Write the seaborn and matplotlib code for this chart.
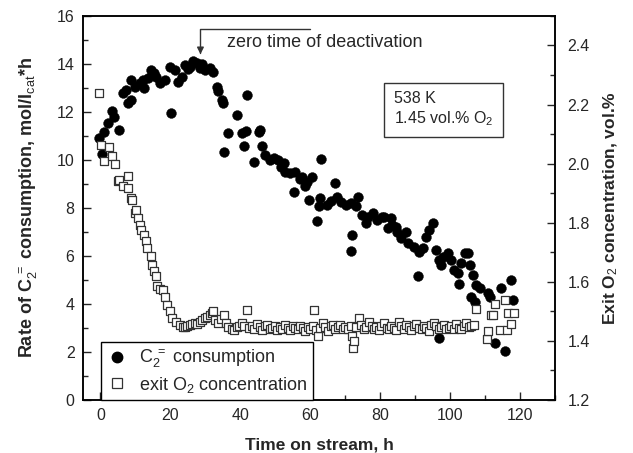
import matplotlib
matplotlib.use("Agg")
import matplotlib.pyplot as plt
import seaborn as sns
import pandas as pd
from matplotlib.ticker import MultipleLocator
from matplotlib.lines import Line2D

# ---- data ----
time_c = [-0.3, 0.4, 1.1, 2.3, 3.4, 4.0, 5.3, 6.4, 7.4, 7.9, 8.8, 8.8, 9.8, 11.2, 12.2, 12.6,
          13.5, 14.6, 15.3, 16.0, 17.0, 18.4, 19.8, 20.3, 21.3, 22.2, 23.2, 24.1, 25.0, 25.6,
          26.5, 27.5, 28.4, 29.0, 29.9, 31.3, 32.3, 33.2, 33.7, 34.7, 35.0, 35.4, 36.4, 39.0,
          40.4, 41.1, 41.7, 42.0, 44.0, 45.2, 45.7, 46.2, 47.1, 48.6, 49.5, 50.9, 51.5, 52.4,
          52.9, 54.3, 55.3, 55.7, 57.0, 57.6, 58.4, 59.1, 59.6, 60.5, 61.8, 62.5, 62.9, 63.1,
          64.8, 66.0, 67.2, 67.7, 68.7, 70.1, 71.6, 71.7, 72.0, 73.0, 73.5, 74.9, 75.9, 76.4,
          77.8, 79.2, 80.6, 81.1, 82.1, 83.0, 83.5, 84.5, 84.9, 85.9, 87.4, 87.8, 89.7, 90.7,
          91.2, 92.1, 93.1, 94.0, 95.0, 96.0, 96.9, 96.9, 97.4, 97.9, 99.3, 100.3, 101.2, 102.2,
          102.4, 103.2, 104.1, 105.1, 105.6, 106.0, 106.5, 107.0, 107.5, 108.4, 110.8, 111.3,
          112.9, 114.5, 115.6, 117.5, 118.0]
rate_c = [10.9, 10.24, 11.18, 11.55, 12.04, 11.8, 11.25, 12.78, 12.9, 12.36, 12.5, 13.33, 13.05,
          13.2, 13.33, 13.0, 13.4, 13.75, 13.6, 13.47, 13.2, 13.33, 13.89, 11.95, 13.75, 13.26,
          13.47, 13.96, 13.8, 13.89, 14.1, 14.03, 13.82, 14.0, 13.75, 13.82, 13.68, 13.05, 12.85,
          12.5, 12.36, 10.35, 11.14, 11.875, 11.1, 10.6, 11.2, 12.7, 9.93, 11.18, 11.25, 10.56,
          10.2, 10.0, 10.07, 10.0, 9.7, 9.86, 9.51, 9.44, 8.68, 9.51, 9.2, 9.3, 8.9, 9.1, 8.33,
          9.3, 7.47, 8.06, 8.4, 10.03, 8.125, 8.3, 9.03, 8.47, 8.26, 8.125, 8.2, 6.22, 6.875,
          8.06, 8.47, 7.7, 7.36, 7.64, 7.78, 7.5, 7.64, 7.64, 7.15, 7.57, 7.3, 7.22, 7.0, 6.74,
          7.01, 6.53, 6.39, 5.17, 6.18, 6.32, 6.8, 7.08, 7.36, 6.25, 5.83, 2.6, 5.625, 5.97,
          6.11, 5.83, 5.42, 5.28, 4.83, 5.7, 6.11, 6.11, 5.625, 4.3, 5.21, 4.1, 4.79, 4.65,
          4.44, 4.3, 2.39, 4.65, 2.05, 5.0, 4.17]

time_o = [-0.3, 0.2, 1.1, 2.4, 3.4, 4.3, 5.0, 5.3, 6.4, 7.9, 7.9, 8.8, 9.1, 9.8, 10.2, 10.7,
          11.2, 11.7, 12.5, 13.0, 13.3, 14.4, 14.8, 15.3, 15.8, 16.3, 17.0, 17.9, 18.4, 18.9,
          19.8, 20.6, 21.6, 22.7, 23.5, 24.1, 24.8, 25.6, 26.3, 27.0, 27.7, 28.4, 29.1, 29.9,
          30.6, 31.3, 32.0, 32.3, 32.8, 33.7, 34.5, 35.4, 36.0, 36.6, 37.5, 38.2, 39.0, 39.7,
          40.4, 41.0, 42.0, 42.5, 43.3, 44.0, 44.8, 45.5, 46.2, 47.0, 47.7, 48.4, 49.1, 49.9,
          50.6, 51.3, 52.0, 52.8, 53.5, 54.2, 55.0, 55.7, 56.4, 57.1, 57.9, 58.6, 59.3, 60.0,
          60.7, 61.2, 61.5, 62.2, 62.9, 63.6, 64.3, 65.0, 65.8, 66.5, 67.2, 67.9, 68.6, 69.3,
          70.0, 70.8, 71.5, 72.0, 72.3, 72.5, 73.2, 73.9, 74.6, 75.3, 76.0, 76.8, 77.5, 78.2,
          78.9, 79.6, 80.3, 81.0, 81.8, 82.5, 83.2, 83.9, 84.6, 85.3, 86.0, 86.8, 87.5, 88.2,
          88.9, 89.6, 90.3, 91.0, 91.8, 92.5, 93.2, 93.9, 94.6, 95.3, 96.0, 96.8, 97.5, 98.2,
          98.9, 99.6, 100.3, 101.0, 101.8, 102.5, 103.2, 103.9, 104.6, 105.3, 106.0, 106.8,
          107.5, 110.6, 110.8, 111.8, 112.1, 112.9, 114.2, 115.6, 116.1, 116.6, 117.5, 118.3]
o2_conc = [2.24, 2.064, 2.008, 2.057, 2.027, 1.997, 1.94, 1.946, 1.925, 1.918, 1.957, 1.884,
           1.878, 1.833, 1.844, 1.816, 1.793, 1.776, 1.76, 1.737, 1.714, 1.686, 1.658, 1.635,
           1.618, 1.586, 1.575, 1.573, 1.55, 1.522, 1.5, 1.477, 1.465, 1.454, 1.447, 1.448,
           1.452, 1.454, 1.458, 1.46, 1.456, 1.465, 1.47, 1.477, 1.482, 1.488, 1.495, 1.5,
           1.471, 1.46, 1.475, 1.488, 1.462, 1.448, 1.44, 1.437, 1.448, 1.452, 1.46, 1.45,
           1.505, 1.445, 1.452, 1.44, 1.458, 1.447, 1.437, 1.45, 1.455, 1.44, 1.445, 1.452,
           1.437, 1.448, 1.44, 1.455, 1.445, 1.437, 1.45, 1.443, 1.44, 1.452, 1.445, 1.432,
           1.448, 1.44, 1.45, 1.505, 1.437, 1.417, 1.445, 1.46, 1.447, 1.435, 1.45, 1.455,
           1.44, 1.447, 1.455, 1.44, 1.448, 1.44, 1.45, 1.415, 1.375, 1.398, 1.447, 1.477,
           1.455, 1.44, 1.448, 1.465, 1.45, 1.44, 1.447, 1.437, 1.452, 1.46, 1.445, 1.44,
           1.452, 1.445, 1.437, 1.465, 1.45, 1.44, 1.455, 1.447, 1.437, 1.45, 1.458, 1.445,
           1.44, 1.452, 1.445, 1.435, 1.455, 1.462, 1.45, 1.44, 1.448, 1.455, 1.44, 1.445,
           1.452, 1.44, 1.458, 1.445, 1.44, 1.452, 1.46, 1.447, 1.45, 1.455, 1.507, 1.406,
           1.435, 1.488, 1.488, 1.525, 1.437, 1.537, 1.437, 1.496, 1.458, 1.496]

df_c = pd.DataFrame({"t": time_c, "r": rate_c})
df_o = pd.DataFrame({"t": time_o, "o": o2_conc})

sns.set_style("ticks")
plt.rcParams["font.family"] = ["Liberation Sans", "DejaVu Sans"]
plt.rcParams["mathtext.fontset"] = "custom"
plt.rcParams["mathtext.rm"] = "Liberation Sans"
plt.rcParams["mathtext.it"] = "Liberation Sans:italic"
plt.rcParams["mathtext.bf"] = "Liberation Sans:bold"

fig = plt.figure(figsize=(6.33, 4.53), dpi=100)
ax = fig.add_axes([0.131, 0.117, 0.746, 0.848])
ax2 = ax.twinx()

sns.scatterplot(data=df_c, x="t", y="r", ax=ax, marker="o", s=50, color="black",
                edgecolor="black", linewidth=0.3, zorder=3)
sns.scatterplot(data=df_o, x="t", y="o", ax=ax2, marker="s", s=30, color="white",
                edgecolor="#333333", linewidth=0.9, zorder=2)

ax.set_xlim(-5, 130)
ax.set_ylim(0, 16)
ax2.set_ylim(1.2, 2.5)

ax.xaxis.set_major_locator(MultipleLocator(20))
ax.xaxis.set_minor_locator(MultipleLocator(10))
ax.yaxis.set_major_locator(MultipleLocator(2))
ax.yaxis.set_minor_locator(MultipleLocator(1))
ax2.yaxis.set_major_locator(MultipleLocator(0.2))
ax2.yaxis.set_minor_locator(MultipleLocator(0.1))
ax2.yaxis.set_major_formatter(matplotlib.ticker.FormatStrFormatter("%.1f"))

for a in (ax, ax2):
    a.tick_params(which="major", direction="in", length=6, width=1, labelsize=11.5, pad=6)
    a.tick_params(which="minor", direction="in", length=3.5, width=1)
    for s in a.spines.values():
        s.set_linewidth(1.1)
        s.set_color("black")
ax.tick_params(axis="y", which="both", right=False)
ax.tick_params(axis="x", which="both", top=False)
ax2.tick_params(axis="y", which="major", pad=9)

ax.set_xlabel("Time on stream, h", fontsize=12.5, fontweight="bold", labelpad=10)
ax.set_ylabel(r"Rate of C$_2^{\ =}$ consumption, mol/l$_{\mathrm{cat}}$*h",
              fontsize=13, fontweight="bold", labelpad=12)
ax2.set_ylabel(r"Exit O$_2$ concentration, vol.%", fontsize=12.5, fontweight="bold",
               labelpad=8)

# annotation
ax.annotate("", xy=(28.6, 14.4), xytext=(59.8, 15.46),
            arrowprops=dict(arrowstyle="-|>", color="#333333", lw=1,
                            connectionstyle="angle,angleA=180,angleB=90,rad=0",
                            shrinkA=0, shrinkB=0, mutation_scale=10))
ax.text(36.2, 14.9, "zero time of deactivation", fontsize=13, ha="left", va="center")

ax.text(83.9, 12.1, "538 K\n1.45 vol.% O$_2$", fontsize=11.5, ha="left", va="center",
        linespacing=1.2,
        bbox=dict(boxstyle="square,pad=0.6", facecolor="white", edgecolor="#333333", lw=1))

handles = [Line2D([], [], marker="o", linestyle="none", color="black", markersize=7.5),
           Line2D([], [], marker="s", linestyle="none", markerfacecolor="white",
                  markeredgecolor="#333333", markersize=6.5, markeredgewidth=0.9)]
labels = [r"C$_2^{\ =}$ consumption", r"exit O$_2$ concentration"]
ax2.legend(handles, labels, loc="lower left", bbox_to_anchor=(0.038, 0.0), borderaxespad=0,
           frameon=True, fancybox=False, edgecolor="black", fontsize=13, handletextpad=0.6,
           borderpad=0.3, labelspacing=0.25, handlelength=1.2, framealpha=1)
leg = ax2.get_legend()
leg.get_frame().set_linewidth(1)

fig.savefig("out.png", dpi=100)
